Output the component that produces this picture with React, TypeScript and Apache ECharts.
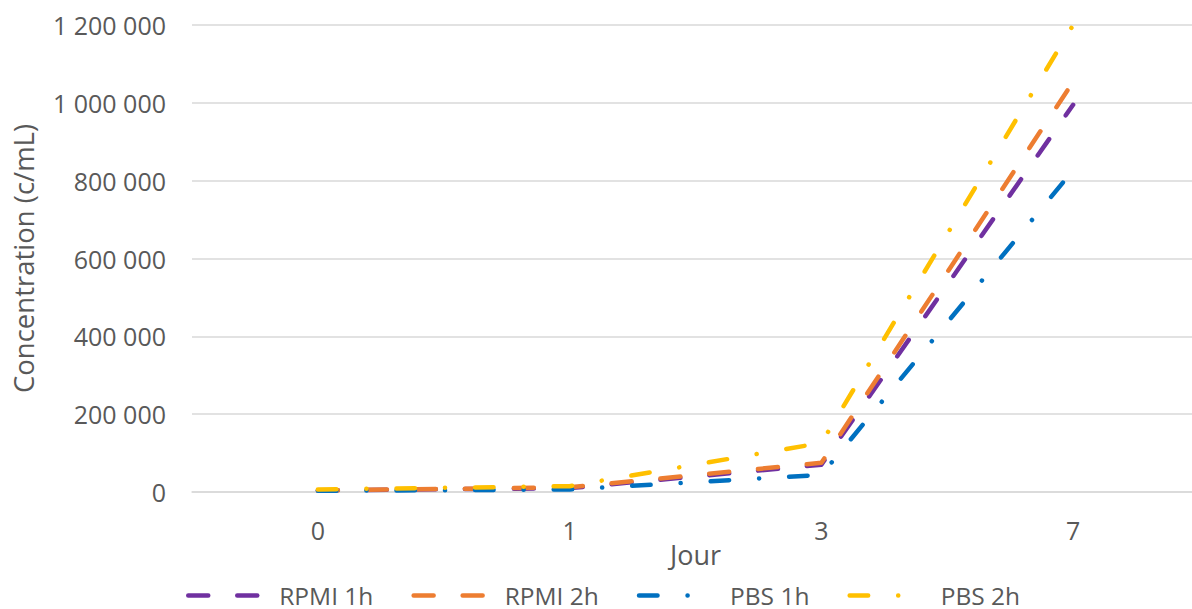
import React, { useEffect, useRef } from "react";
import * as echarts from "echarts";

const categories = ["0", "1", "3", "7"];
const seriesNames = ["RPMI 1h", "RPMI 2h", "PBS 1h", "PBS 2h"];
const rpmi1h = [4000, 10000, 70000, 995000];
const rpmi2h = [4000, 12000, 75000, 1054000];
const pbs1h = [3000, 6500, 44000, 827000];
const pbs2h = [6500, 15000, 126000, 1200000];
const colors = ["#7030A0", "#ED7D31", "#0070C0", "#FFC000"];
const yTicks = [0, 200000, 400000, 600000, 800000, 1000000, 1200000];

const FONT = "'Open Sans', sans-serif";
const TXT = "#595959";

const fmt = (v: number) => String(v).replace(/\B(?=(\d{3})+(?!\d))/g, " ");

export default function App() {
  const ref = useRef<HTMLDivElement>(null);
  useEffect(() => {
    if (!ref.current) return;
    const chart = echarts.init(ref.current, undefined, { renderer: "svg" });
    const longDash = [20, 29];
    const dashDot = [18.5, 30, 0.1, 30];
    const data = [rpmi1h, rpmi2h, pbs1h, pbs2h];
    const dashes = [longDash, longDash, dashDot, dashDot];
    chart.setOption({
      animation: false,
      textStyle: { fontFamily: FONT },
      grid: { left: 192, right: 11, top: 25, bottom: 117, containLabel: false },
      legend: {
        left: 181,
        top: 578,
        itemWidth: 76,
        itemHeight: 14,
        itemGap: 38,
        data: seriesNames,
        itemStyle: { opacity: 0 },
        lineStyle: { width: 4.5, cap: "round" },
        textStyle: { fontFamily: FONT, fontSize: 24.5, lineHeight: 24, color: TXT, padding: [0, 0, 0, 10] },
      },
      xAxis: {
        type: "category",
        data: categories,
        boundaryGap: true,
        name: "Jour",
        nameLocation: "middle",
        nameGap: 49,
        nameMoveOverlap: false,
        nameTextStyle: { fontFamily: FONT, fontSize: 27, color: TXT },
        axisLine: { show: true, lineStyle: { color: "#d9d9d9", width: 1.5 } },
        axisTick: { show: false },
        axisLabel: { fontFamily: FONT, fontSize: 25, color: TXT, margin: 25 },
      },
      yAxis: {
        type: "value",
        min: 0,
        max: yTicks[yTicks.length - 1],
        interval: 200000,
        name: "Concentration (c/mL)",
        nameLocation: "middle",
        nameGap: 155,
        nameMoveOverlap: false,
        nameTextStyle: { fontFamily: FONT, fontSize: 27.5, color: TXT },
        axisLine: { show: false },
        axisTick: { show: false },
        splitLine: { lineStyle: { color: "#d9d9d9", width: 1.5 } },
        axisLabel: {
          fontFamily: FONT,
          fontSize: 25,
          color: TXT,
          margin: 26,
          formatter: (v: number) => fmt(v),
        },
      },
      series: data.map((d, i) => ({
        name: seriesNames[i],
        type: "line",
        data: d,
        symbol: "none",
        showSymbol: false,
        lineStyle: { color: colors[i], width: 4.5, type: dashes[i], cap: "round", join: "round" },
        itemStyle: { color: colors[i] },
      })),
    });
    return () => chart.dispose();
  }, []);
  return (
    <div style={{ position: "fixed", left: 0, top: 0, width: 1192, height: 609, overflow: "hidden", background: "#fff" }}>
      <div ref={ref} style={{ position: "absolute", left: 0, top: 0, width: 1210, height: 609 }} />
    </div>
  );
}
